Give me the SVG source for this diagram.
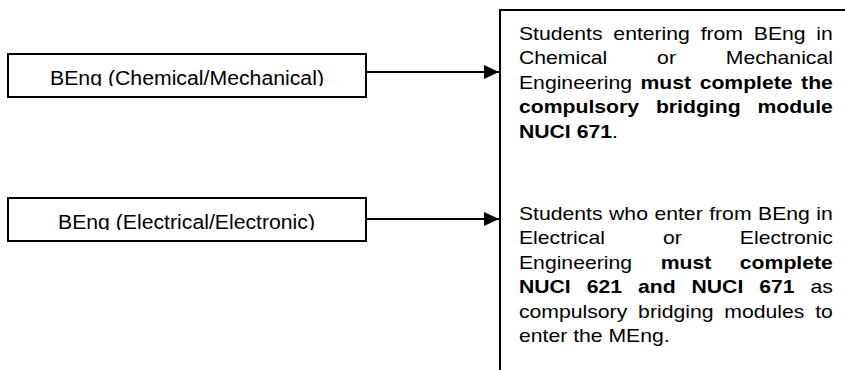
<svg xmlns="http://www.w3.org/2000/svg" width="845" height="370" viewBox="0 0 845 370">
  <style>
    .box { fill: #ffffff; stroke: #000000; stroke-width: 2; }
    .lbl { font-family: "Liberation Sans", Arial, sans-serif; font-size: 20px; fill: #000000; }
    .para { font-family: "Liberation Sans", Arial, sans-serif; font-size: 19px; fill: #000000; }
    .b { font-weight: bold; }
    .conn { stroke: #000000; stroke-width: 2; fill: none; }
  </style>
  <defs>
    <marker id="arrow" markerUnits="userSpaceOnUse" markerWidth="16" markerHeight="16" refX="15" refY="7" orient="auto">
      <path d="M0,0 L15,7 L0,14 Z" fill="#000000"/>
    </marker>
    <clipPath id="clip1"><rect x="9" y="55" width="356" height="31"/></clipPath>
    <clipPath id="clip2"><rect x="9" y="199" width="356" height="31"/></clipPath>
  </defs>
  <rect width="845" height="370" fill="#ffffff"/>

  <g id="connectors">
    <line class="conn" x1="366" y1="72" x2="499" y2="72" marker-end="url(#arrow)"/>
    <line class="conn" x1="366" y1="219" x2="499" y2="219" marker-end="url(#arrow)"/>
  </g>

  <g id="node-chemical">
    <rect class="box" x="8" y="54" width="358" height="43"/>
    <text class="lbl" x="50" y="84.5" textLength="274" lengthAdjust="spacingAndGlyphs" clip-path="url(#clip1)">BEng (Chemical/Mechanical)</text>
  </g>

  <g id="node-electrical">
    <rect class="box" x="8" y="198" width="358" height="43"/>
    <text class="lbl" x="58" y="228.5" textLength="257" lengthAdjust="spacingAndGlyphs" clip-path="url(#clip2)">BEng (Electrical/Electronic)</text>
  </g>

  <g id="node-requirements">
    <rect class="box" x="500" y="10" width="400" height="400"/>
    <g transform="translate(519,0) scale(1.115,1)">
      <text class="para" x="0" y="40" word-spacing="4.4">Students entering from BEng in</text>
      <text class="para" x="0" y="64.5" word-spacing="39.45">Chemical or Mechanical</text>
      <text class="para" x="0" y="89" word-spacing="2.37">Engineering <tspan class="b">must complete the</tspan></text>
      <text class="para b" x="0" y="113.5" word-spacing="9.9">compulsory bridging module</text>
      <text class="para" x="0" y="138"><tspan class="b">NUCI 671</tspan>.</text>

      <text class="para" x="0" y="220" word-spacing="0.56">Students who enter from BEng in</text>
      <text class="para" x="0" y="244.5" word-spacing="46.8">Electrical or Electronic</text>
      <text class="para" x="0" y="269" word-spacing="20.4">Engineering <tspan class="b">must complete</tspan></text>
      <text class="para" x="0" y="293.5" word-spacing="9.02"><tspan class="b">NUCI 621 and NUCI 671</tspan> as</text>
      <text class="para" x="0" y="318" word-spacing="4.47">compulsory bridging modules to</text>
      <text class="para" x="0" y="342.5">enter the MEng.</text>
    </g>
  </g>
</svg>
